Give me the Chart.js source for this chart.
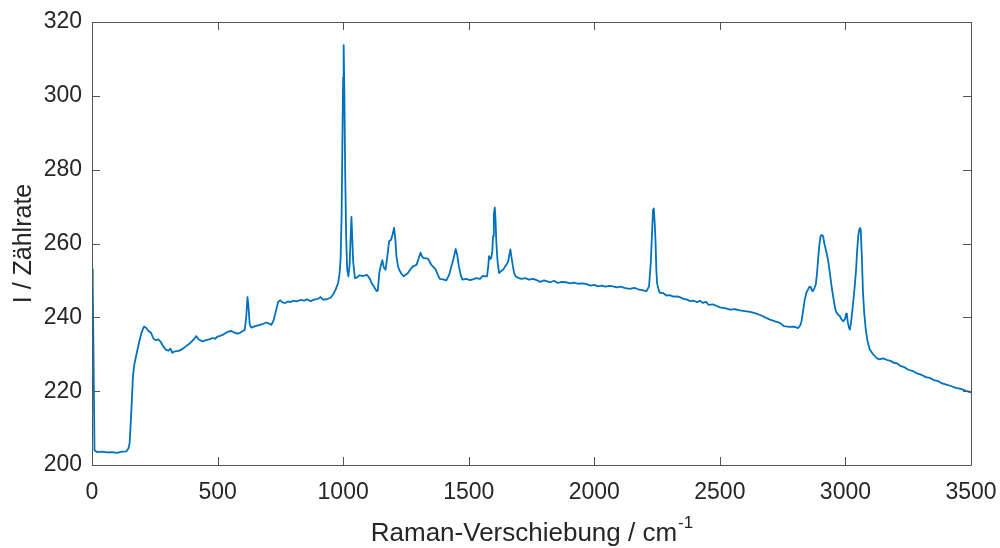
<!DOCTYPE html>
<html>
<head>
<meta charset="utf-8">
<script src="https://cdn.jsdelivr.net/npm/chart.js@4"></script>
<style>
  html, body { margin: 0; padding: 0; background: #fff; }
  #wrap { width: 1000px; height: 548px; }
</style>
</head>
<body>
<div id="wrap"><canvas id="myChart" width="1000" height="548"></canvas></div>
<script>
// Raman-Verschiebung / cm^-1
const shift = [
  0, 3, 6, 10, 20, 40, 60, 80, 100, 120, 137, 145, 150, 157, 163, 168, 174, 182, 190, 198,
  207, 215, 225, 235, 245, 255, 265, 275, 285, 295, 305, 312, 320, 330, 345, 360, 375, 390, 405, 415,
  425, 440, 455, 470, 480, 490, 500, 510, 522, 535, 545, 555, 565, 578, 590, 600, 608, 614, 619, 623,
  628, 635, 650, 665, 680, 695, 705, 714, 722, 728, 735, 742, 750, 760, 770, 780, 790, 800, 815, 830,
  845, 855, 870, 885, 900, 910, 920, 935, 950, 960, 970, 980, 986, 990, 994, 997, 1000, 1002, 1005, 1008,
  1012, 1016, 1021, 1026, 1030, 1033, 1036, 1040, 1047, 1055, 1065, 1075, 1085, 1095, 1105, 1113, 1123, 1133, 1138, 1144,
  1150, 1156, 1162, 1169, 1175, 1183, 1191, 1197, 1203, 1208, 1212, 1218, 1223, 1232, 1241, 1250, 1258, 1268, 1278, 1292,
  1300, 1308, 1314, 1319, 1328, 1338, 1345, 1351, 1360, 1369, 1377, 1385, 1398, 1411, 1422, 1431, 1440, 1448, 1454, 1461,
  1468, 1475, 1490, 1505, 1517, 1530, 1545, 1556, 1564, 1573, 1578, 1581, 1586, 1590, 1594, 1597, 1600, 1604, 1607, 1610,
  1615, 1621, 1630, 1637, 1645, 1650, 1657, 1662, 1666, 1671, 1676, 1681, 1687, 1700, 1710, 1725, 1740, 1757, 1770, 1785,
  1800, 1810, 1825, 1840, 1855, 1870, 1888, 1905, 1920, 1935, 1955, 1970, 1985, 2000, 2015, 2030, 2045, 2060, 2075, 2090,
  2105, 2120, 2141, 2160, 2175, 2190, 2208, 2218, 2225, 2230, 2234, 2237, 2241, 2244, 2247, 2250, 2256, 2261, 2274, 2287,
  2300, 2315, 2330, 2340, 2355, 2370, 2380, 2395, 2410, 2420, 2433, 2445, 2455, 2473, 2490, 2500, 2520, 2540, 2560, 2580,
  2606, 2625, 2646, 2665, 2686, 2700, 2720, 2739, 2755, 2778, 2795, 2812, 2820, 2825, 2831, 2838, 2845, 2851, 2857, 2862,
  2866, 2871, 2877, 2882, 2887, 2891, 2896, 2901, 2906, 2911, 2916, 2925, 2932, 2938, 2944, 2951, 2957, 2962, 2970, 2978,
  2985, 2991, 2998, 3003, 3006, 3009, 3014, 3018, 3023, 3028, 3033, 3037, 3042, 3047, 3051, 3055, 3058, 3061, 3065, 3070,
  3075, 3081, 3088, 3097, 3110, 3124, 3135, 3150, 3164, 3180, 3195, 3203, 3220, 3235, 3250, 3270, 3285, 3300, 3320, 3336,
  3355, 3370, 3385, 3402, 3420, 3440, 3460, 3480, 3500
];

// I / Zählrate
const counts = [
  253, 249, 230, 204, 203.5, 203.6, 203.4, 203.5, 203.3, 203.6, 203.7, 204.5, 206, 215, 224, 227, 229, 231.5, 234, 236,
  237.5, 237.2, 236.3, 235.8, 234.2, 233.8, 234, 233.2, 232, 231.2, 231, 231.5, 230.4, 230.8, 230.9, 231.4, 232.2, 233, 234, 234.9,
  234, 233.5, 233.8, 234.1, 234.4, 234.2, 234.8, 235, 235.3, 235.9, 236.2, 236.3, 235.9, 235.6, 235.8, 236.3, 236.6, 240, 245.5, 243,
  238, 237.2, 237.6, 237.9, 238.2, 238.6, 238.3, 238, 239, 240.5, 242.5, 244.3, 244.6, 244, 243.9, 244.3, 244.1, 244.5, 244.3, 244.7,
  244.5, 244.9, 244.4, 244.8, 245, 245.5, 244.8, 244.9, 245.3, 246.2, 247.5, 249.3, 252, 256, 268, 287, 305, 313.7, 300, 280,
  262, 253, 251.1, 254.5, 262, 267.2, 262, 255, 250.6, 250.8, 251.4, 251.2, 251.3, 251.5, 250.6, 249.3, 248.3, 247.1, 247.3, 252,
  254, 255.5, 253.5, 252.9, 256, 260.6, 261, 262.5, 264.2, 261, 256.6, 254, 252.9, 251.8, 251.1, 251.6, 252, 253, 253.8, 254.2,
  255.8, 257.5, 256.5, 256.1, 256, 255.9, 255, 254.2, 253.6, 252.9, 251.5, 250.4, 250.3, 250, 251.5, 253.8, 256, 258.5, 257, 253.8,
  251.5, 250.2, 250.4, 250.1, 250.3, 250.6, 250.4, 251.2, 251.1, 251.1, 254, 256.6, 255.8, 256.1, 258, 262, 268, 269.7, 266, 260.2,
  255, 252, 252.6, 252.9, 253.8, 254.2, 255.1, 257, 258.4, 256, 253.8, 252, 251.1, 250.6, 250.4, 250.6, 250.2, 250.4, 250.1, 249.6,
  250, 249.8, 249.5, 249.9, 249.3, 249.6, 249.5, 249.2, 249.4, 249.1, 249.2, 249, 248.6, 248.8, 248.4, 248.6, 248.3, 248.5, 248.4, 248.1,
  248.3, 248, 247.7, 248, 247.6, 247.4, 247.1, 248.4, 254.8, 263, 269.2, 269.5, 265, 260.3, 253, 249.3, 247.5, 246.6, 246.6, 245.9,
  246, 245.6, 245.7, 245.5, 245, 244.8, 244.4, 244.5, 244.1, 244.5, 243.9, 244.2, 243.4, 243.5, 243, 242.7, 242.5, 242.1, 242.2, 241.9,
  241.6, 241.4, 241, 240.5, 239.8, 239.4, 238.9, 238.5, 237.6, 237.4, 237.5, 237.1, 237.8, 238.9, 241.5, 244.8, 246.8, 247.5, 248.3, 248.2,
  247.3, 247.1, 248, 248.9, 252, 255.6, 259.5, 262, 262.3, 262, 260, 257.5, 255, 252, 248.8, 245.7, 243.2, 241.6, 240.8, 240.3,
  239.4, 238.9, 239.5, 241, 240.5, 238.9, 237.2, 236.7, 239, 242.1, 245.5, 248.4, 252.5, 258.4, 262, 263.8, 264.2, 263.7, 257, 246.6,
  241, 236.7, 233.5, 231.3, 230, 229, 228.6, 228.9, 228.5, 228.2, 227.6, 227.6, 226.8, 226.5, 225.8, 225.4, 224.8, 224.5, 223.8, 223.6,
  222.9, 222.7, 222.1, 221.8, 221.4, 220.9, 220.6, 220.1, 219.7
];

const xTicks = [0, 500, 1000, 1500, 2000, 2500, 3000, 3500];
const yTicks = [200, 220, 240, 260, 280, 300, 320];

const axisColor = "#262626";
const fontFamily = "'Liberation Sans', Arial, Helvetica, sans-serif";

// box round the plot with inward ticks on all four sides, plus the x label with superscript
const matlabBox = {
  id: "matlabBox",
  afterDraw(chart) {
    const { ctx, chartArea: a, scales } = chart;
    const len = 8;
    ctx.save();
    ctx.strokeStyle = "#555";
    ctx.lineWidth = 1;
    ctx.beginPath();
    ctx.rect(Math.round(a.left) + 0.5, Math.round(a.top) + 0.5,
             Math.round(a.right - a.left), Math.round(a.bottom - a.top));
    ctx.stroke();
    ctx.beginPath();
    xTicks.forEach(v => {
      const px = Math.round(scales.x.getPixelForValue(v)) + 0.5;
      ctx.moveTo(px, a.bottom); ctx.lineTo(px, a.bottom - len);
      ctx.moveTo(px, a.top); ctx.lineTo(px, a.top + len);
    });
    yTicks.forEach(v => {
      const py = Math.round(scales.y.getPixelForValue(v)) + 0.5;
      ctx.moveTo(a.left, py); ctx.lineTo(a.left + len, py);
      ctx.moveTo(a.right, py); ctx.lineTo(a.right - len, py);
    });
    ctx.stroke();

    // x axis label: "Raman-Verschiebung / cm" + superscript "-1"
    const main = "Raman-Verschiebung / cm";
    const sup = "-1";
    ctx.fillStyle = axisColor;
    ctx.textBaseline = "alphabetic";
    ctx.font = "26px " + fontFamily;
    const wMain = ctx.measureText(main).width;
    ctx.font = "17px " + fontFamily;
    const wSup = ctx.measureText(sup).width;
    const x0 = (a.left + a.right) / 2 - (wMain + wSup) / 2;
    ctx.font = "26px " + fontFamily;
    ctx.textAlign = "left";
    ctx.fillText(main, x0, 541);
    ctx.font = "17px " + fontFamily;
    ctx.fillText(sup, x0 + wMain + 1, 528);
    ctx.restore();
  }
};

new Chart(document.getElementById("myChart"), {
  type: "line",
  data: {
    datasets: [{
      data: shift.map((x, i) => ({ x: x, y: counts[i] })),
      borderColor: "#0072BD",
      borderWidth: 1.8,
      borderJoinStyle: "round",
      borderCapStyle: "round",
      pointRadius: 0,
      tension: 0,
      fill: false
    }]
  },
  options: {
    responsive: false,
    animation: false,
    layout: { padding: { top: 22, right: 29, left: 0, bottom: 0 } },
    plugins: { legend: { display: false }, tooltip: { enabled: false } },
    scales: {
      x: {
        type: "linear",
        min: 0, max: 3500,
        afterFit: s => { s.height = 83; s.paddingLeft = 0; s.paddingRight = 0; },
        afterBuildTicks: s => { s.ticks = xTicks.map(v => ({ value: v })); },
        grid: { display: false, drawTicks: false },
        border: { display: false },
        ticks: {
          color: axisColor, font: { family: fontFamily, size: 23 }, padding: 14, maxRotation: 0,
          callback: v => String(v)
        }
      },
      y: {
        min: 200, max: 320,
        afterFit: s => { s.width = 92; s.paddingTop = 0; s.paddingBottom = 0; },
        afterBuildTicks: s => { s.ticks = yTicks.map(v => ({ value: v })); },
        grid: { display: false, drawTicks: false },
        border: { display: false },
        ticks: {
          color: axisColor, font: { family: fontFamily, size: 23 }, padding: 10,
          callback: v => String(v)
        },
        title: {
          display: true,
          text: "I / Zählrate",
          color: axisColor,
          font: { family: fontFamily, size: 25 },
          padding: { top: 9, bottom: 0 }
        }
      }
    }
  },
  plugins: [matlabBox]
});
</script>
</body>
</html>
